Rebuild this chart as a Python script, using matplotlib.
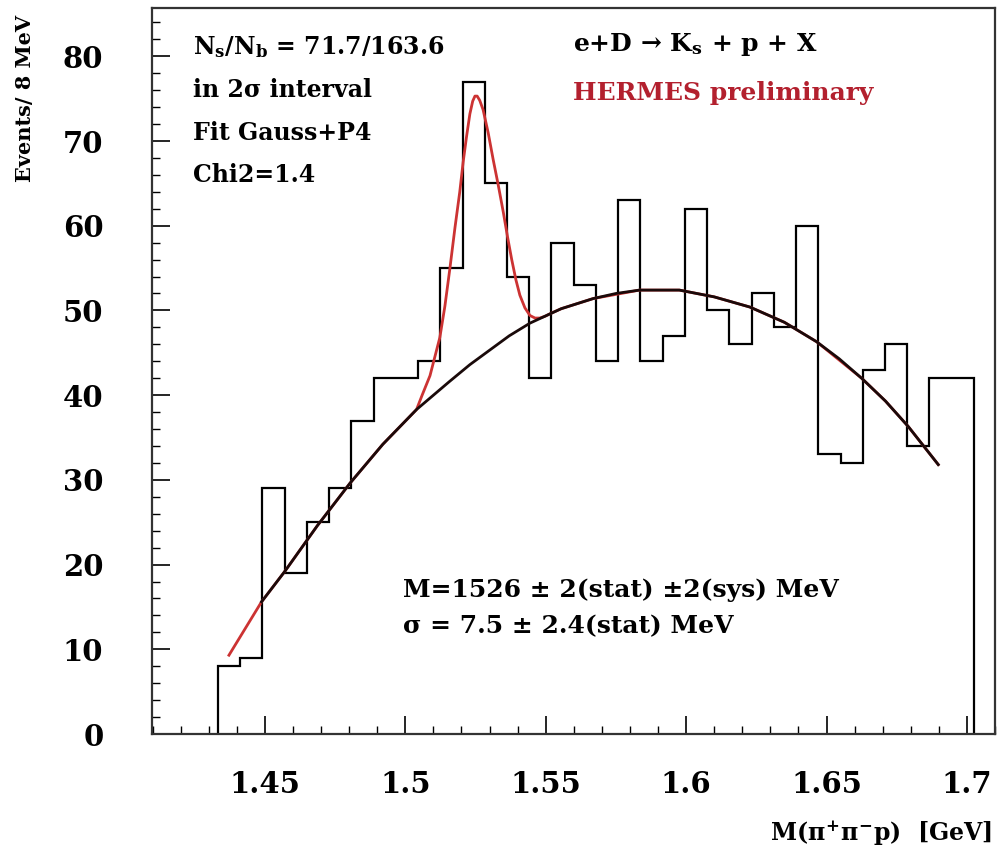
import numpy as np
import matplotlib
matplotlib.use('Agg')
import matplotlib.pyplot as plt
from matplotlib.ticker import MultipleLocator

plt.rcParams['font.family'] = ['DejaVu Serif']
plt.rcParams['font.weight'] = 'bold'
plt.rcParams['mathtext.fontset'] = 'custom'
plt.rcParams['mathtext.rm'] = 'DejaVu Serif:bold'
plt.rcParams['mathtext.it'] = 'DejaVu Serif:bold'
plt.rcParams['mathtext.bf'] = 'DejaVu Serif:bold'

# histogram: 34 bins, M(pi+ pi- p) in GeV
bin_lo, bin_hi = 1.4333, 1.7025
counts = [8, 9, 29, 19, 25, 29, 37, 42, 42, 44, 55, 77, 65, 54, 42, 58, 53,
          44, 63, 44, 47, 62, 50, 46, 52, 48, 60, 33, 32, 43, 46, 34, 42, 42]

# Gauss+P4 fit
fit_x = [1.4372, 1.4488, 1.4571, 1.4687, 1.4803, 1.4920, 1.5040, 1.5060,
         1.5088, 1.5123, 1.5141, 1.5159, 1.5177, 1.5194, 1.5206, 1.5218,
         1.5230, 1.5240, 1.5248, 1.5256, 1.5265, 1.5277, 1.5295, 1.5313,
         1.5331, 1.5349, 1.5364, 1.5379, 1.5394, 1.5408, 1.5426, 1.5444,
         1.5462, 1.5479, 1.5497, 1.5515, 1.5555, 1.5669, 1.5834, 1.5976,
         1.6100, 1.6227, 1.6350, 1.6465, 1.6625, 1.6710, 1.6791, 1.6898]
fit_y = [9.3, 15.6, 19.2, 24.6, 29.6, 34.2, 38.3, 40.0,
         42.3, 46.8, 50.5, 55.0, 59.8, 64.0, 67.5, 70.5,
         73.2, 74.7, 75.3, 75.3, 74.8, 73.7, 71.0, 67.8,
         64.8, 61.6, 58.7, 56.0, 53.6, 51.8, 50.3, 49.4,
         49.1, 49.1, 49.3, 49.6, 50.2, 51.4, 52.4, 52.4,
         51.6, 50.4, 48.6, 46.3, 42.0, 39.3, 36.3, 31.8]

# P4 background alone
bg_x = [1.4488, 1.4571, 1.4687, 1.4803, 1.4920, 1.5040, 1.5157, 1.5230,
        1.5300, 1.5370, 1.5444, 1.5555, 1.5669, 1.5750, 1.5834, 1.5976,
        1.6100, 1.6227, 1.6350, 1.6465, 1.6545, 1.6625, 1.6710, 1.6791,
        1.6898]
bg_y = [15.6, 19.2, 24.6, 29.6, 34.2, 38.3, 41.6, 43.6,
        45.3, 47.0, 48.5, 50.2, 51.4, 52.0, 52.4, 52.4,
        51.6, 50.4, 48.6, 46.3, 44.3, 42.0, 39.3, 36.3,
        31.8]

W, H = 997, 856
fig = plt.figure(figsize=(W / 100, H / 100), dpi=100)
ax = fig.add_axes([152 / W, 1 - 734 / H, (995 - 152) / W, (734 - 8) / H])

edges = np.linspace(bin_lo, bin_hi, len(counts) + 1)
ax.stairs(counts, edges, baseline=0, color='black', lw=1.6)
ax.plot(fit_x, fit_y, color='#cc3333', lw=2)
ax.plot(bg_x, bg_y, color='#1a0a0a', lw=2)

ax.set_xlim(1.4098, 1.71)
ax.set_ylim(0, 85.7)
ax.xaxis.set_minor_locator(MultipleLocator(0.01))
ax.yaxis.set_major_locator(MultipleLocator(10))
ax.yaxis.set_minor_locator(MultipleLocator(2))
ax.set_xticks([1.45, 1.5, 1.55, 1.6, 1.65, 1.7])
ax.set_xticklabels(['1.45', '1.5', '1.55', '1.6', '1.65', '1.7'])
ax.tick_params(which='both', direction='in', top=False, right=False, labelsize=21)
ax.tick_params(which='major', length=13, width=1.2)
ax.tick_params(which='minor', length=6, width=1)
ax.tick_params(axis='x', pad=26)
ax.tick_params(axis='y', pad=35)
for s in ax.spines.values():
    s.set_linewidth(1.6)
    s.set_color('#333333')

def fx(px):
    return px / W

def fy(py):
    return 1 - py / H

fig.text(fx(193), fy(47), r'N$_{\mathrm{s}}$/N$_{\mathrm{b}}$ = 71.7/163.6', fontsize=17, va='center')
fig.text(fx(193), fy(90), 'in 2σ interval', fontsize=17, va='center')
fig.text(fx(193), fy(133), 'Fit Gauss+P4', fontsize=17, va='center')
fig.text(fx(193), fy(175), 'Chi2=1.4', fontsize=17, va='center')
fig.text(fx(573), fy(44), r'e+D → K$_{\mathrm{s}}$ + p + X', fontsize=18, va='center')
fig.text(fx(573), fy(93), 'HERMES preliminary', fontsize=18, va='center', color='#b3202e')
fig.text(fx(403), fy(590), 'M=1526 ± 2(stat) ±2(sys) MeV', fontsize=18, va='center')
fig.text(fx(403), fy(626), 'σ = 7.5 ± 2.4(stat) MeV', fontsize=18, va='center')

fig.text(fx(25), fy(15), 'Events/ 8 MeV', fontsize=15, rotation=90, ha='center', va='top')
fig.text(fx(992), fy(833), r'M($\pi^{+}\pi^{-}$p)  [GeV]', fontsize=17, ha='right', va='center')

fig.savefig('out.png', dpi=100)
